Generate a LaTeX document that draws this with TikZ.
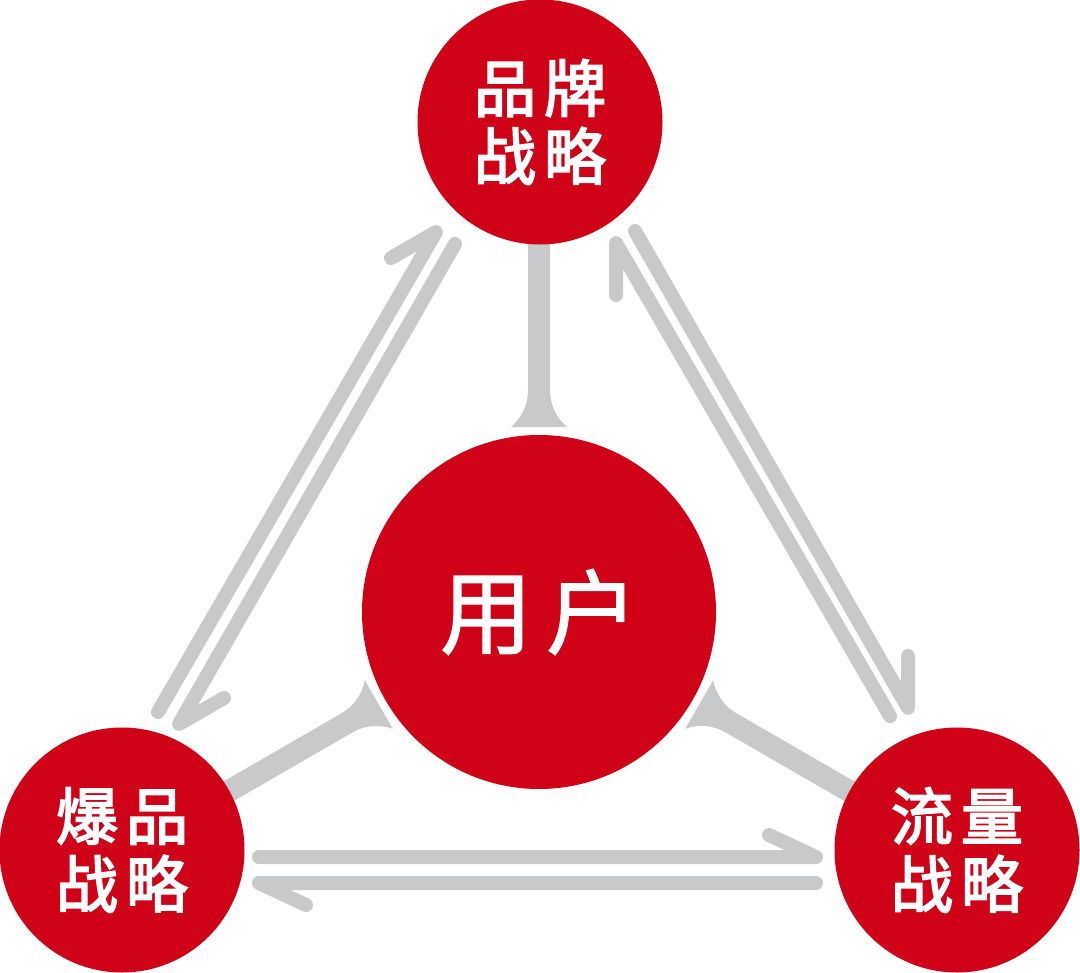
\documentclass[tikz,border=0pt]{standalone}
\usepackage{fontspec}
\newfontfamily\cjk[FakeBold=1.5]{Noto Sans CJK SC}
\newfontfamily\cjkheavy[FakeBold=3]{Noto Sans CJK SC}
\usepackage{tikz}
\definecolor{brandred}{RGB}{208,2,23}
\definecolor{linkgray}{RGB}{200,201,202}

\begin{document}
\begin{tikzpicture}[x=1bp,y=-1bp,
    strategy/.style={circle,fill=brandred,text=white,minimum size=245bp,inner sep=0pt,
      align=center,font=\cjkheavy\fontsize{62bp}{68bp}\selectfont},
    hub/.style={circle,fill=brandred,text=white,minimum size=354bp,inner sep=0pt,
      font=\cjk\fontsize{92bp}{100bp}\selectfont},
    flow/.style={draw=linkgray,line width=14bp,line cap=round,line join=round},
    spoke/.style={fill=linkgray}]
    \useasboundingbox (0,0) rectangle (1080,973);

    \node[hub] (user) at (539,612) {用\hspace{14bp}户};
    % spokes from the hub
    \foreach \a in {90,210,330}
      \fill[spoke,shift={(user)},rotate=\a] (420,11) -- (222,11)
        .. controls (204,11) and (192,20) .. (185,28) -- (185,-28)
        .. controls (192,-20) and (204,-11) .. (222,-11) -- (420,-11) -- cycle;

    \node[strategy] (brand)   at (540,122) {品\hspace{8bp}牌\\战\hspace{8bp}略};
    \node[strategy] (hot)     at (122,850) {爆\hspace{8bp}品\\战\hspace{8bp}略};
    \node[strategy] (traffic) at (957,850) {流\hspace{8bp}量\\战\hspace{8bp}略};

    % arrow ends
    \coordinate (hb1) at (158,712); \coordinate (hb2) at (436,232); \coordinate (hb3) at (391,258);
    \coordinate (bh1) at (455,244); \coordinate (bh2) at (179,724); \coordinate (bh3) at (224,698);
    \coordinate (tb1) at (890,716); \coordinate (tb2) at (616,243); \coordinate (tb3) at (616,295);
    \coordinate (bt1) at (635,231); \coordinate (bt2) at (908,708); \coordinate (bt3) at (908,656);
    \coordinate (ht1) at (259,857); \coordinate (ht2) at (816,857); \coordinate (ht3) at (769,835);
    \coordinate (th1) at (816,883); \coordinate (th2) at (259,883); \coordinate (th3) at (306,905);

    \draw[flow] (hb1) -- (hb2) -- (hb3);
    \draw[flow] (bh1) -- (bh2) -- (bh3);
    \draw[flow] (tb1) -- (tb2) -- (tb3);
    \draw[flow] (bt1) -- (bt2) -- (bt3);
    \draw[flow] (ht1) -- (ht2) -- (ht3);
    \draw[flow] (th1) -- (th2) -- (th3);
\end{tikzpicture}
\end{document}
